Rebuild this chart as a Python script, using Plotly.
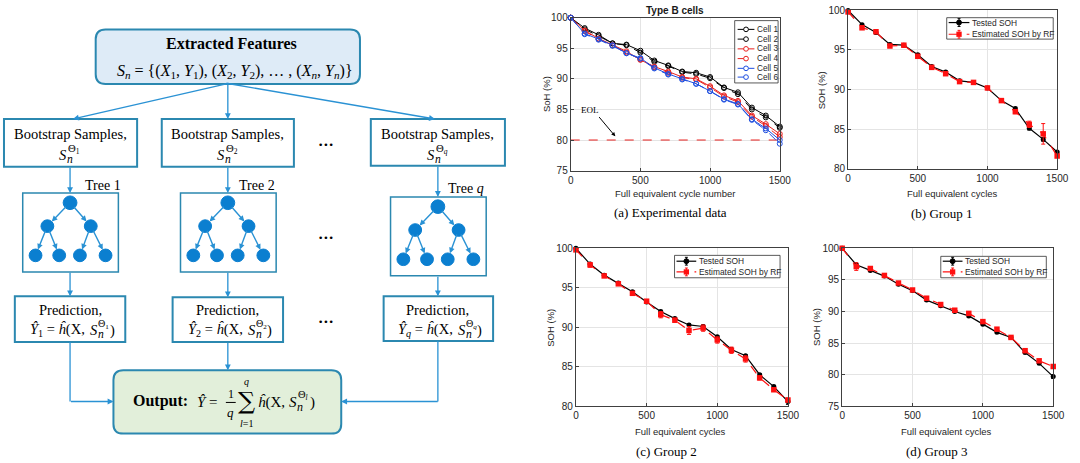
import plotly.graph_objects as go

W, H = 1080, 463

# ---------------- data ----------------
cycles = [0, 100, 200, 300, 400, 500, 600, 700, 800, 900, 1000, 1100, 1200, 1300, 1400, 1500]

cell1 = [100, 98.3, 97.2, 95.8, 95.6, 94.6, 93.0, 92.2, 91.2, 91.0, 90.3, 88.6, 87.8, 85.3, 84.0, 82.2]
cell2 = [100, 98.1, 97.0, 95.8, 95.5, 94.3, 92.8, 92.1, 91.1, 90.8, 90.1, 88.5, 87.5, 85.0, 83.7, 82.0]
cell3 = [100, 97.9, 96.6, 95.5, 94.5, 93.1, 92.0, 91.2, 90.3, 90.0, 88.8, 87.3, 86.4, 84.0, 82.6, 81.0]
cell4 = [100, 97.8, 96.5, 95.5, 94.3, 93.2, 91.9, 91.0, 90.2, 89.9, 88.6, 87.1, 86.2, 83.8, 82.3, 80.5]
cell5 = [100, 97.4, 96.5, 95.5, 94.2, 93.4, 91.8, 90.8, 90.0, 89.2, 88.0, 86.7, 85.9, 83.4, 81.9, 80.0]
cell6 = [100, 97.3, 96.4, 95.4, 94.2, 93.3, 91.7, 90.7, 89.9, 89.2, 88.0, 86.6, 85.8, 83.3, 81.6, 79.4]
cell_names = ["Cell 1", "Cell 2", "Cell 3", "Cell 4", "Cell 5", "Cell 6"]
eol_x = [0, 1500]
eol_y = [80, 80]

g1_test = [100, 98.2, 97.2, 95.7, 95.6, 94.4, 92.9, 92.2, 91.1, 90.9, 90.2, 88.6, 87.6, 85.1, 83.7, 82.1]
g1_test_err = [0.15, 0.15, 0.15, 0.15, 0.1, 0.15, 0.15, 0.15, 0.15, 0.15, 0.1, 0.15, 0.15, 0.2, 0.2, 0.2]
g1_est = [99.8, 97.8, 97.3, 95.5, 95.6, 94.2, 92.8, 92.0, 91.0, 90.9, 90.2, 88.6, 87.2, 85.6, 84.4, 81.6]
g1_est_err = [0.2, 0.2, 0.2, 0.2, 0.15, 0.2, 0.2, 0.2, 0.2, 0.15, 0.15, 0.2, 0.25, 0.4, 1.3, 0.2]

g2_test = [100, 98.0, 96.6, 95.6, 94.5, 93.2, 92.0, 91.1, 90.3, 90.1, 88.8, 87.2, 86.4, 84.0, 82.5, 80.6]
g2_test_err = [0.15, 0.2, 0.15, 0.15, 0.15, 0.15, 0.15, 0.15, 0.15, 0.2, 0.15, 0.15, 0.15, 0.15, 0.15, 0.35]
g2_est = [99.8, 97.9, 96.5, 95.5, 94.3, 93.3, 91.6, 90.9, 89.6, 89.9, 88.4, 87.1, 86.0, 83.6, 82.1, 80.8]
g2_est_err = [0.2, 0.3, 0.2, 0.15, 0.2, 0.2, 0.4, 0.25, 0.5, 0.4, 0.4, 0.4, 0.4, 0.25, 0.2, 0.25]

g3_test = [100, 97.4, 96.5, 95.6, 94.3, 93.3, 91.8, 90.9, 90.0, 89.3, 88.0, 86.7, 85.9, 83.5, 81.8, 79.7]
g3_test_err = [0.1, 0.2, 0.15, 0.15, 0.15, 0.1, 0.15, 0.15, 0.15, 0.15, 0.15, 0.15, 0.1, 0.15, 0.15, 0.3]
g3_est = [100, 97.1, 96.8, 95.7, 94.5, 93.4, 92.1, 91.1, 90.2, 89.7, 88.4, 87.2, 85.9, 83.8, 82.2, 81.3]
g3_est_err = [0.15, 0.6, 0.2, 0.15, 0.2, 0.15, 0.2, 0.15, 0.15, 0.15, 0.15, 0.2, 0.15, 0.2, 0.2, 0.3]

series_names = ["Tested SOH", "Estimated SOH by RF"]
x_ticks = [0, 500, 1000, 1500]

# ---------------- helpers ----------------
def P(x):
    return x / W

def Q(y):
    return 1 - y / H

shapes = []
anns = []

SERIF = "Liberation Serif, DejaVu Serif, serif"
SANS = "Liberation Sans, Arial, sans-serif"
BORDER = "#2b88b0"
ARROW = "#2a92d4"
NODE = "#0b7fd0"


def text(x, y, s, size=13, family=SERIF, color="black", xanchor="center", yanchor="middle", angle=0):
    anns.append(dict(x=P(x), y=Q(y), xref="paper", yref="paper", text=s, showarrow=False,
                     xanchor=xanchor, yanchor=yanchor, textangle=angle,
                     font=dict(family=family, size=size, color=color), borderpad=0))


def arrow(x0, y0, x1, y1, color=ARROW, width=1.3, size=0.9):
    anns.append(dict(x=P(x1), y=Q(y1), xref="paper", yref="paper", ax=x0 - x1, ay=y0 - y1,
                     axref="pixel", ayref="pixel", text="", showarrow=True, arrowhead=2,
                     arrowsize=size, arrowwidth=width, arrowcolor=color, standoff=0, startstandoff=0))


def line(x0, y0, x1, y1, color=ARROW, width=1.3, dash="solid"):
    shapes.append(dict(type="line", xref="paper", yref="paper", x0=P(x0), y0=Q(y0), x1=P(x1), y1=Q(y1),
                       line=dict(color=color, width=width, dash=dash)))


def rect(x0, y0, x1, y1, color=BORDER, width=2, fill="white"):
    shapes.append(dict(type="rect", xref="paper", yref="paper", x0=P(x0), y0=Q(y1), x1=P(x1), y1=Q(y0),
                       line=dict(color=color, width=width), fillcolor=fill, layer="below"))


def rrect(x0, y0, x1, y1, r, fill, color=BORDER, width=2):
    pts = [
        ("M", [(x0 + r, y0)]), ("L", [(x1 - r, y0)]), ("Q", [(x1, y0), (x1, y0 + r)]),
        ("L", [(x1, y1 - r)]), ("Q", [(x1, y1), (x1 - r, y1)]), ("L", [(x0 + r, y1)]),
        ("Q", [(x0, y1), (x0, y1 - r)]), ("L", [(x0, y0 + r)]), ("Q", [(x0, y0), (x0 + r, y0)]),
    ]
    path = ""
    for cmd, ps in pts:
        path += cmd + " " + " ".join("%.6f,%.6f" % (P(a), Q(b)) for a, b in ps) + " "
    path += "Z"
    shapes.append(dict(type="path", xref="paper", yref="paper", path=path,
                       line=dict(color=color, width=width), fillcolor=fill, layer="below"))


def circle(cx, cy, r, fill=NODE, color=NODE, width=1):
    shapes.append(dict(type="circle", xref="paper", yref="paper", x0=P(cx - r), x1=P(cx + r),
                       y0=Q(cy + r), y1=Q(cy - r), fillcolor=fill, line=dict(color=color, width=width)))


def sgroup(xl, yc, sup, fs=14, supf=0.74):
    text(xl, yc, "<i>S</i>", size=fs, xanchor="left")
    text(xl + 0.56 * fs, yc + 0.30 * fs, "<i>n</i>", size=0.8 * fs, xanchor="left")
    text(xl + 0.60 * fs, yc - 0.45 * fs, sup, size=supf * fs, xanchor="left")


# ---------------- flowchart ----------------
rrect(94, 24, 362, 80, 10, "#deebf7")
text(232, 38, "<b>Extracted Features</b>", size=16)
text(235, 67, "<i>S<sub>n</sub></i> = {(<i>X</i><sub>1</sub>, <i>Y</i><sub>1</sub>), (<i>X</i><sub>2</sub>, "
              "<i>Y</i><sub>2</sub>), \u2026 , (<i>X<sub>n</sub></i>, <i>Y<sub>n</sub></i>)}", size=16)

cols = [68, 228, 441]
boot = [(1, 116, 136, 165), (161, 116, 295, 165), (373, 116, 509, 164)]
trees = [(20, 192, 117, 273), (180, 192, 277, 273), (393, 196, 490, 277)]
preds = [(12, 298, 124, 345), (172, 299, 284, 345), (386, 298, 497, 344)]
sups = ["\u0398<sub>1</sub>", "\u0398<sub>2</sub>", "\u0398<sub><i>q</i></sub>"]
ysubs = ["1", "2", "<i>q</i>"]
tree_labels = ["Tree 1", "Tree 2", "Tree <i>q</i>"]
tree_label_pos = [(101, 184), (258, 184), (470, 187)]

arrow(228, 80, 71, 116)
arrow(228, 80, 228, 116)
arrow(228, 80, 438, 116)

for i in range(3):
    cx = cols[i]
    bx0, by0, bx1, by1 = boot[i]
    rect(bx0, by0, bx1, by1)
    text(cx, 131, "Bootstrap Samples,", size=14.5)
    sgroup(cx - 12, 153, sups[i], fs=14.5)

    tx0, ty0, tx1, ty1 = trees[i]
    rect(tx0, ty0, tx1, ty1, width=1.5)
    arrow(cx, by1, cx, ty0)
    lx, ly = tree_label_pos[i]
    text(lx, ly, tree_labels[i], size=14)

    ry = ty0 + 10
    root = (cx, ry, 7)
    l2 = [(cx - 23, ry + 24, 6.5), (cx + 21, ry + 24, 6.5)]
    leaves = [(cx - 35, ry + 54, 6.5), (cx - 11, ry + 54, 6.5), (cx + 10, ry + 54, 6.5), (cx + 36, ry + 54, 6.5)]
    edges = [(root, l2[0]), (root, l2[1]), (l2[0], leaves[0]), (l2[0], leaves[1]),
             (l2[1], leaves[2]), (l2[1], leaves[3])]
    for (pa, ch) in edges:
        dx, dy = ch[0] - pa[0], ch[1] - pa[1]
        d = (dx * dx + dy * dy) ** 0.5
        ux, uy = dx / d, dy / d
        arrow(pa[0] + ux * pa[2] * 0.6, pa[1] + uy * pa[2] * 0.6,
              ch[0] - ux * ch[2], ch[1] - uy * ch[2], color=ARROW, width=1.4, size=0.8)
    for nd in [root] + l2 + leaves:
        circle(*nd)

    px0, py0, px1, py1 = preds[i]
    rect(px0, py0, px1, py1)
    arrow(cx, ty1, cx, py0)
    text(cx, 312, "Prediction,", size=14.5)
    text(cx + 19, 333, "<i>\u0176</i><sub>%s</sub> = <i>\u0125</i>(X,\u00a0" % ysubs[i], size=14.5, xanchor="right")
    sgroup(cx + 19, 333, sups[i], fs=14.5, supf=0.7)
    text(cx + 39, 333, ")", size=14.5, xanchor="left")

for yy in [143, 238, 324]:
    text(328, yy, "\u2022\u2022\u2022", size=9, family="DejaVu Sans")

rrect(112, 374, 343, 439, 10, "#e2efda")
line(68, 345, 68, 406)
arrow(68, 406, 112, 406)
arrow(228, 345, 228, 374)
line(441, 344, 441, 406)
arrow(441, 406, 343, 406)

text(160, 406, "<b>Output:</b>", size=16)
text(196, 407, "<i>\u0176</i> =", size=15, xanchor="left")
text(231, 398, "1", size=12)
line(226, 407, 236, 407, color="black", width=1)
text(231, 417, "<i>q</i>", size=13)
text(247, 406, "\u2211", size=24, family="DejaVu Serif")
text(247, 386, "<i>q</i>", size=10)
text(247, 429, "<i>l</i>=1", size=10)
text(258, 407, "<i>\u0125</i>(X,\u00a0", size=15, xanchor="left")
sgroup(289, 407, "\u0398<sub><i>l</i></sub>", fs=15, supf=0.7)
text(310, 407, ")", size=15, xanchor="left")

# ---------------- charts ----------------
fig = go.Figure()

dom = {
    "a": ((575.7, 787.7), (12, 169)),
    "b": ((857, 1069), (4.5, 167)),
    "c": ((581, 796), (248.7, 411)),
    "d": ((851, 1065), (248.7, 411)),
}
yr = {"a": [75, 100], "b": [80, 100], "c": [80, 100], "d": [75, 100]}
axid = {"a": "", "b": "2", "c": "3", "d": "4"}


def axis_common():
    return dict(showgrid=True, gridcolor="#e4e4e4", gridwidth=1, zeroline=False, showline=True,
                linecolor="#404040", linewidth=1, mirror=True, ticks="inside", ticklen=3,
                tickcolor="#404040", tickfont=dict(family=SANS, size=10, color="#262626"))


layout_axes = {}
for k in "abcd":
    (x0, x1), (y0, y1) = dom[k]
    n = axid[k]
    xa = axis_common()
    xa.update(domain=[P(x0), P(x1)], range=[0, 1500], tickvals=x_ticks, anchor="y" + n)
    ya = axis_common()
    ya.update(domain=[Q(y1), Q(y0)], range=yr[k], dtick=5, anchor="x" + n)
    layout_axes["xaxis" + n] = xa
    layout_axes["yaxis" + n] = ya

cells = [cell1, cell2, cell3, cell4, cell5, cell6]
cell_colors = ["#000000", "#000000", "#e8201e", "#e8201e", "#1f4fe0", "#1f4fe0"]
cell_dash = ["solid", "dash", "solid", "dash", "solid", "dash"]
fig.add_trace(go.Scatter(x=eol_x, y=eol_y, mode="lines", line=dict(color="#e8201e", width=1, dash="dash"),
                         xaxis="x", yaxis="y", showlegend=False, hoverinfo="skip"))
for vals, nm, c, d in zip(cells, cell_names, cell_colors, cell_dash):
    fig.add_trace(go.Scatter(x=cycles, y=vals, name=nm, mode="lines+markers",
                             line=dict(color=c, width=1, dash=d),
                             marker=dict(symbol="circle-open", size=5, color=c, line=dict(width=1)),
                             xaxis="x", yaxis="y", cliponaxis=False))

groups = [(g1_test, g1_test_err, g1_est, g1_est_err, "2"),
          (g2_test, g2_test_err, g2_est, g2_est_err, "3"),
          (g3_test, g3_test_err, g3_est, g3_est_err, "4")]
for t, te, e, ee, n in groups:
    fig.add_trace(go.Scatter(x=cycles, y=t, name=series_names[0], mode="lines+markers",
                             line=dict(color="black", width=1.2),
                             marker=dict(symbol="circle", size=5, color="black"),
                             error_y=dict(type="data", array=te, color="black", thickness=1, width=2),
                             xaxis="x" + n, yaxis="y" + n, cliponaxis=False))
    fig.add_trace(go.Scatter(x=cycles, y=e, name=series_names[1], mode="lines+markers",
                             line=dict(color="#ff1010", width=1.2, dash="dash"),
                             marker=dict(symbol="square", size=5.5, color="#ff1010"),
                             error_y=dict(type="data", array=ee, color="#ff1010", thickness=1, width=2),
                             xaxis="x" + n, yaxis="y" + n, cliponaxis=False))

anns.append(dict(x=320, y=80.6, xref="x", yref="y", ax=195, ay=84.0, axref="x", ayref="y",
                 text="", showarrow=True, arrowhead=2, arrowsize=0.8, arrowwidth=1, arrowcolor="black"))
anns.append(dict(x=140, y=84.9, xref="x", yref="y", text="EOL", showarrow=False,
                 font=dict(family=SERIF, size=9, color="black")))

text(681, 5, "<b>Type B cells</b>", size=10, family=SANS, color="#1a1a1a")
axis_titles_x = [(681, 193, "Full equivalent cycle number"), (963, 193, "Full equivalent cycles"),
                 (687, 437, "Full equivalent cycles"), (957, 437, "Full equivalent cycles")]
for x, y, s in axis_titles_x:
    text(x, y, s, size=9.5, family=SANS, color="#262626")
axis_titles_y = [(551, 90, "SoH (%)"), (830, 86, "SOH (%)"), (555, 330, "SOH (%)"), (825, 330, "SOH (%)")]
for x, y, s in axis_titles_y:
    text(x, y, s, size=9.5, family=SANS, color="#262626", angle=-90)
captions = [(677, 212, "(a) Experimental data"), (952, 213, "(b) Group 1"),
            (673, 457, "(c) Group 2"), (947, 457, "(d) Group 3")]
for x, y, s in captions:
    text(x, y, s, size=13, family=SERIF)

# ---------------- manual legends ----------------
def leg_box(x0, y0, x1, y1):
    shapes.append(dict(type="rect", xref="paper", yref="paper", x0=P(x0), y0=Q(y1), x1=P(x1), y1=Q(y0),
                       line=dict(color="#303030", width=0.8), fillcolor="white", layer="above"))


leg_box(742, 15, 786, 79)
rows_a = [24, 34, 44, 54, 64, 73]
for yy, nm, c, d in zip(rows_a, cell_names, cell_colors, cell_dash):
    line(745, yy, 762, yy, color=c, width=1, dash=d)
    circle(753.5, yy, 2.4, fill="white", color=c, width=1)
    text(764, yy, nm, size=8.2, family=SANS, color="#262626", xanchor="left")

leg_specs = [((957, 12, 1065, 34), 959, 980, (17, 29)),
             ((681, 256, 788, 279), 683, 703, (262, 273)),
             ((951, 257, 1058, 279), 953, 973, (262, 273))]
for (bx0, by0, bx1, by1), lx0, lx1, (r1, r2) in leg_specs:
    leg_box(bx0, by0, bx1, by1)
    mx = (lx0 + lx1) / 2
    line(lx0, r1, lx1, r1, color="black", width=1.2)
    line(mx, r1 - 4, mx, r1 + 4, color="black", width=1)
    line(mx - 1.5, r1 - 4, mx + 1.5, r1 - 4, color="black", width=1)
    line(mx - 1.5, r1 + 4, mx + 1.5, r1 + 4, color="black", width=1)
    circle(mx, r1, 2.5, fill="black", color="black")
    line(lx0, r2, lx1, r2, color="#ff1010", width=1.2, dash="dash")
    line(mx, r2 - 4, mx, r2 + 4, color="#ff1010", width=1)
    line(mx - 1.5, r2 - 4, mx + 1.5, r2 - 4, color="#ff1010", width=1)
    line(mx - 1.5, r2 + 4, mx + 1.5, r2 + 4, color="#ff1010", width=1)
    shapes.append(dict(type="rect", xref="paper", yref="paper", x0=P(mx - 2.7), x1=P(mx + 2.7),
                       y0=Q(r2 + 2.7), y1=Q(r2 - 2.7), fillcolor="#ff1010", line=dict(width=0)))
    text(lx1 + 2, r1, series_names[0], size=8.4, family=SANS, color="#262626", xanchor="left")
    text(lx1 + 2, r2, series_names[1], size=8.4, family=SANS, color="#262626", xanchor="left")

fig.update_layout(width=W, height=H, margin=dict(l=0, r=0, t=0, b=0), paper_bgcolor="white",
                  plot_bgcolor="white", showlegend=False, shapes=shapes, annotations=anns, **layout_axes)

fig.write_html("out.html", config={"displayModeBar": False},
               post_script="document.body.style.margin='0px';document.body.style.overflow='hidden';")
